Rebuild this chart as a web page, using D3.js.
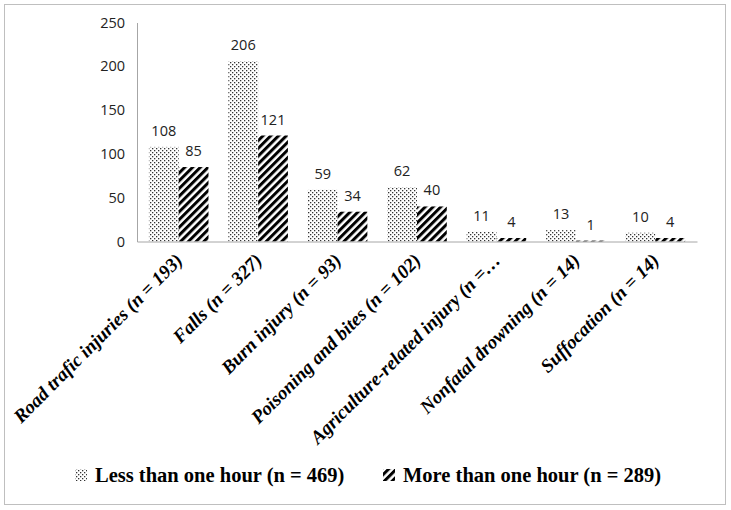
<!DOCTYPE html>
<html><head><meta charset="utf-8">
<script src="https://cdn.jsdelivr.net/npm/d3@7"></script>
<style>body{margin:0;background:#fff}</style>
</head><body>
<svg id="c" width="731" height="510"></svg>
<script>
const categories = ["Road trafic injuries", "Falls", "Burn injury", "Poisoning and bites", "Agriculture-related injury", "Nonfatal drowning", "Suffocation"];
const categoryN = ["193", "327", "93", "102", "…", "14", "14"];
const lessThanOneHour = [108, 206, 59, 62, 11, 13, 10];
const moreThanOneHour = [85, 121, 34, 40, 4, 1, 4];
const seriesNames = ["Less than one hour (n = 469)", "More than one hour (n = 289)"];
const yTicks = [0, 50, 100, 150, 200, 250];

const svg = d3.select("#c");
const defs = svg.append("defs");
const dots = defs.append("pattern").attr("id","dots").attr("patternUnits","userSpaceOnUse").attr("width",4).attr("height",4);
dots.append("rect").attr("width",4).attr("height",4).attr("fill","#fff");
dots.append("rect").attr("x",0).attr("y",0).attr("width",1.3).attr("height",1.3).attr("fill","#333");
dots.append("rect").attr("x",2).attr("y",2).attr("width",1.3).attr("height",1.3).attr("fill","#333");
const hatch = defs.append("pattern").attr("id","hatch").attr("patternUnits","userSpaceOnUse").attr("width",5.5).attr("height",5.5).attr("patternTransform","rotate(45)");
hatch.append("rect").attr("width",5.5).attr("height",5.5).attr("fill","#fff");
hatch.append("rect").attr("x",0).attr("y",0).attr("width",3).attr("height",5.5).attr("fill","#000");

svg.append("rect").attr("x",4.5).attr("y",4.5).attr("width",721).attr("height",500).attr("fill","#fff").attr("stroke","#bfbfbf");

const x0 = 137, x1 = 697, yTop = 22.5, yBot = 241.5;
const x = d3.scaleBand().domain(categories).range([x0, x1]).paddingInner(0.25).paddingOuter(0.15);
const xs = d3.scaleBand().domain([0,1]).range([0, x.bandwidth()]);
const y = d3.scaleLinear().domain([0, 250]).range([yBot, yTop]);

const yAxis = svg.append("g").attr("transform",`translate(${x0},0)`).call(d3.axisLeft(y).tickValues(yTicks).tickSize(0).tickPadding(12));
yAxis.select(".domain").attr("stroke","#a6a6a6");
yAxis.selectAll("text").attr("font-family","Open Sans, Liberation Sans, sans-serif").attr("font-size",14.5).attr("fill","#222");

const series = [lessThanOneHour, moreThanOneHour];
const fills = ["url(#dots)","url(#hatch)"];
series.forEach((vals, si) => {
  const g = svg.append("g");
  g.selectAll("rect").data(vals).join("rect")
    .attr("x",(d,i)=>x(categories[i]) + xs(si))
    .attr("y",d=>y(d))
    .attr("width",xs.bandwidth())
    .attr("height",d=>yBot - y(d))
    .attr("fill",fills[si]);
  g.selectAll("text").data(vals).join("text")
    .attr("x",(d,i)=>x(categories[i]) + xs(si) + xs.bandwidth()/2)
    .attr("y",d=>y(d) - 11)
    .attr("text-anchor","middle")
    .attr("font-family","Open Sans, Liberation Sans, sans-serif")
    .attr("font-size",14.5).attr("fill","#222")
    .text(d=>d);
});

const xAxis = svg.append("g").attr("transform",`translate(0,${yBot})`).call(d3.axisBottom(x).tickSize(0).tickFormat(""));
xAxis.select(".domain").attr("stroke","#a6a6a6");

const lab = svg.append("g");
categories.forEach((c,i) => {
  const cx = x(c) + x.bandwidth()/2 + 5;
  const t = lab.append("text")
    .attr("transform",`translate(${cx},${yBot+20}) rotate(-45)`)
    .attr("text-anchor","end")
    .attr("font-family","Liberation Serif, DejaVu Serif, serif")
    .attr("font-style","italic").attr("font-weight","bold")
    .attr("font-size",19).attr("fill","#000");
  t.append("tspan").text(c + " (");
  t.append("tspan").text("n");
  t.append("tspan").text(categoryN[i] === "…" ? " =…" : " = " + categoryN[i] + ")");
});

const leg = svg.append("g").attr("font-family","Liberation Serif, DejaVu Serif, serif").attr("font-weight","bold").attr("font-size",20.5);
const legX = [75, 383];
seriesNames.forEach((n,i) => {
  leg.append("rect").attr("x",legX[i]).attr("y",469).attr("width",12).attr("height",12).attr("fill",fills[i]);
  leg.append("text").attr("x",legX[i]+20).attr("y",482).text(n);
});
</script>
</body></html>
